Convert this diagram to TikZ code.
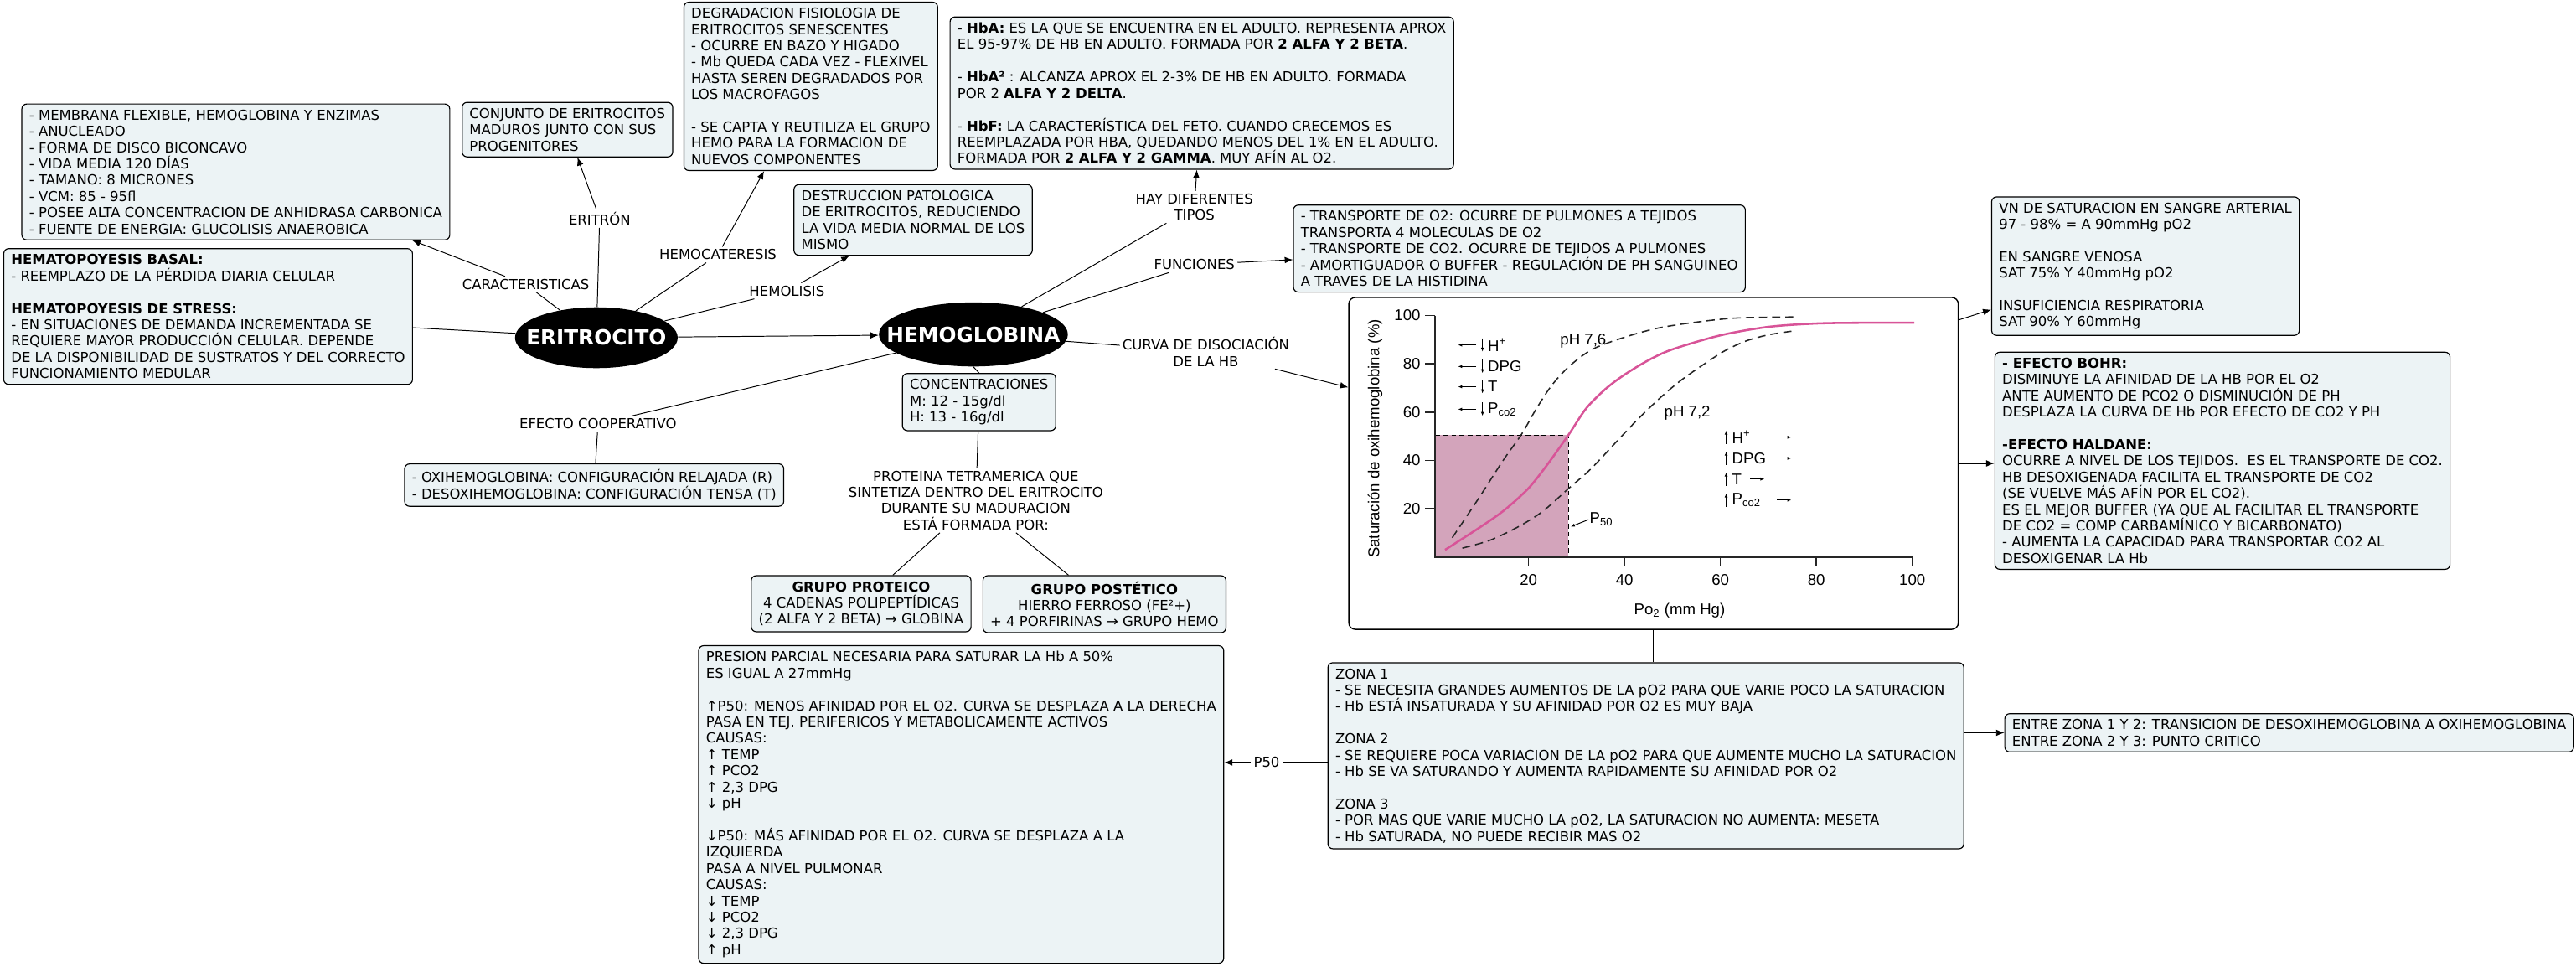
\documentclass[tikz,border=0pt]{standalone}
\usepackage{fontspec}
\setmainfont{DejaVu Sans}
\newfontfamily\graphfont{Liberation Sans}
\usetikzlibrary{shapes.geometric,arrows.meta}
\definecolor{boxfill}{RGB}{236,243,245}
\definecolor{curvepink}{RGB}{216,84,152}
\definecolor{zonefill}{RGB}{211,164,187}
\tikzset{
  box/.style={draw, line width=0.6pt, rounded corners=3pt, fill=boxfill, anchor=north west, inner xsep=4.5pt, inner ysep=3.5pt, align=left},
  lbl/.style={inner sep=1.5pt, align=center},
  hub/.style={ellipse, fill=black, text=white, inner sep=0pt, font=\fontsize{12.6}{14}\selectfont\bfseries},
  conn/.style={line width=0.5pt},
  link/.style={line width=0.5pt, -{Latex[length=5pt,width=4pt]}},
  gbox/.style={draw, line width=0.7pt, rounded corners=4pt, fill=white, inner sep=0pt, minimum width=371pt, minimum height=202pt},
  gaxis/.style={line width=0.8pt, black!85},
  gdash/.style={line width=0.8pt, black!85, dash pattern=on 5pt off 3pt},
  gsmall/.style={line width=0.5pt, -{Latex[length=2.5pt,width=2pt]}},
  gtext/.style={font=\graphfont\fontsize{9.5}{11}\selectfont, inner sep=0.5pt}
}
\begin{document}
\begin{tikzpicture}[x=1pt,y=-1pt,font=\fontsize{8.4}{9.9}\selectfont]
\useasboundingbox (0,0) rectangle (1568,588);
\node[box] (membrana) at (13,63) {- MEMBRANA FLEXIBLE, HEMOGLOBINA Y ENZIMAS\\- ANUCLEADO\\- FORMA DE DISCO BICONCAVO\\- VIDA MEDIA 120 DÍAS\\- TAMANO: 8 MICRONES\\- VCM: 85 - 95fl\\- POSEE ALTA CONCENTRACION DE ANHIDRASA CARBONICA\\- FUENTE DE ENERGIA: GLUCOLISIS ANAEROBICA};
\node[box] (hemato) at (2,151) {{\bfseries HEMATOPOYESIS BASAL:}\\- REEMPLAZO DE LA PÉRDIDA DIARIA CELULAR\\[9.9pt]{\bfseries HEMATOPOYESIS DE STRESS:}\\- EN SITUACIONES DE DEMANDA INCREMENTADA SE\\REQUIERE MAYOR PRODUCCIÓN CELULAR. DEPENDE\\DE LA DISPONIBILIDAD DE SUSTRATOS Y DEL CORRECTO\\FUNCIONAMIENTO MEDULAR};
\node[box] (conjunto) at (281,62) {CONJUNTO DE ERITROCITOS\\MADUROS JUNTO CON SUS\\PROGENITORES};
\node[box] (degradacion) at (416,1) {DEGRADACION FISIOLOGIA DE\\ERITROCITOS SENESCENTES\\- OCURRE EN BAZO Y HIGADO\\- Mb QUEDA CADA VEZ - FLEXIVEL\\HASTA SEREN DEGRADADOS POR\\LOS MACROFAGOS\\[9.9pt]- SE CAPTA Y REUTILIZA EL GRUPO\\HEMO PARA LA FORMACION DE\\NUEVOS COMPONENTES};
\node[box] (tipos) at (578,10) {- {\bfseries HbA:} ES LA QUE SE ENCUENTRA EN EL ADULTO. REPRESENTA APROX\\EL 95-97\% DE HB EN ADULTO. FORMADA POR {\bfseries 2 ALFA Y 2 BETA}.\\[9.9pt]- {\bfseries HbA²} : ALCANZA APROX EL 2-3\% DE HB EN ADULTO. FORMADA\\POR 2 {\bfseries ALFA Y 2 DELTA}.\\[9.9pt]- {\bfseries HbF:} LA CARACTERÍSTICA DEL FETO. CUANDO CRECEMOS ES\\REEMPLAZADA POR HBA, QUEDANDO MENOS DEL 1\% EN EL ADULTO.\\FORMADA POR {\bfseries 2 ALFA Y 2 GAMMA}. MUY AFÍN AL O2.};
\node[box] (destruccion) at (483,112) {DESTRUCCION PATOLOGICA\\DE ERITROCITOS, REDUCIENDO\\LA VIDA MEDIA NORMAL DE LOS\\MISMO};
\node[hub, minimum width=99pt, minimum height=37pt] (eri) at (363,205.5) {\makebox[0pt]{ERITROCITO}};
\node[hub, minimum width=115pt, minimum height=39pt] (hemo) at (592.5,203.5) {\makebox[0pt]{HEMOGLOBINA}};
\node[box] (conc) at (549,227) {CONCENTRACIONES\\M: 12 - 15g/dl\\H: 13 - 16g/dl};
\node[lbl] (proteina) at (594,304.5) {PROTEINA TETRAMERICA QUE\\SINTETIZA DENTRO DEL ERITROCITO\\DURANTE SU MADURACION\\ESTÁ FORMADA POR:};
\node[box, align=center] (proteico) at (457,350) {{\bfseries GRUPO PROTEICO}\\4 CADENAS POLIPEPTÍDICAS\\(2 ALFA Y 2 BETA) → GLOBINA};
\node[box, align=center] (postetico) at (598,350) {{\bfseries GRUPO POSTÉTICO}\\HIERRO FERROSO (FE²+)\\+ 4 PORFIRINAS → GRUPO HEMO};
\node[box] (config) at (246,282) {- OXIHEMOGLOBINA: CONFIGURACIÓN RELAJADA (R)\\- DESOXIHEMOGLOBINA: CONFIGURACIÓN TENSA (T)};
\node[box] (funciones) at (787,124.5) {- TRANSPORTE DE O2: OCURRE DE PULMONES A TEJIDOS\\TRANSPORTA 4 MOLECULAS DE O2\\- TRANSPORTE DE CO2. OCURRE DE TEJIDOS A PULMONES\\- AMORTIGUADOR O BUFFER - REGULACIÓN DE PH SANGUINEO\\A TRAVES DE LA HISTIDINA};
\node[box] (valores) at (1212,119.5) {VN DE SATURACION EN SANGRE ARTERIAL\\97 - 98\% = A 90mmHg pO2\\[9.9pt]EN SANGRE VENOSA\\SAT 75\% Y 40mmHg pO2\\[9.9pt]INSUFICIENCIA RESPIRATORIA\\SAT 90\% Y 60mmHg};
\node[box] (efectos) at (1214,214) {{\bfseries - EFECTO BOHR:}\\DISMINUYE LA AFINIDAD DE LA HB POR EL O2\\ANTE AUMENTO DE PCO2 O DISMINUCIÓN DE PH\\DESPLAZA LA CURVA DE Hb POR EFECTO DE CO2 Y PH\\[9.9pt]{\bfseries -EFECTO HALDANE:}\\OCURRE A NIVEL DE LOS TEJIDOS.\ \ ES EL TRANSPORTE DE CO2.\\HB DESOXIGENADA FACILITA EL TRANSPORTE DE CO2\\(SE VUELVE MÁS AFÍN POR EL CO2).\\ES EL MEJOR BUFFER (YA QUE AL FACILITAR EL TRANSPORTE\\DE CO2 = COMP CARBAMÍNICO Y BICARBONATO)\\- AUMENTA LA CAPACIDAD PARA TRANSPORTAR CO2 AL\\DESOXIGENAR LA Hb};
\node[box] (zonas) at (808,403) {ZONA 1\\- SE NECESITA GRANDES AUMENTOS DE LA pO2 PARA QUE VARIE POCO LA SATURACION\\- Hb ESTÁ INSATURADA Y SU AFINIDAD POR O2 ES MUY BAJA\\[9.9pt]ZONA 2\\- SE REQUIERE POCA VARIACION DE LA pO2 PARA QUE AUMENTE MUCHO LA SATURACION\\- Hb SE VA SATURANDO Y AUMENTA RAPIDAMENTE SU AFINIDAD POR O2\\[9.9pt]ZONA 3\\- POR MAS QUE VARIE MUCHO LA pO2, LA SATURACION NO AUMENTA: MESETA\\- Hb SATURADA, NO PUEDE RECIBIR MAS O2};
\node[box] (transicion) at (1220,434) {ENTRE ZONA 1 Y 2: TRANSICION DE DESOXIHEMOGLOBINA A OXIHEMOGLOBINA\\ENTRE ZONA 2 Y 3: PUNTO CRITICO};
\node[box] (presion) at (425,392.6) {PRESION PARCIAL NECESARIA PARA SATURAR LA Hb A 50\%\\ES IGUAL A 27mmHg\\[9.9pt]↑P50: MENOS AFINIDAD POR EL O2. CURVA SE DESPLAZA A LA DERECHA\\PASA EN TEJ. PERIFERICOS Y METABOLICAMENTE ACTIVOS\\CAUSAS:\\↑ TEMP\\↑ PCO2\\↑ 2,3 DPG\\↓ pH\\[9.9pt]↓P50: MÁS AFINIDAD POR EL O2. CURVA SE DESPLAZA A LA\\IZQUIERDA\\PASA A NIVEL PULMONAR\\CAUSAS:\\↓ TEMP\\↓ PCO2\\↓ 2,3 DPG\\↑ pH};
\node[lbl] (lblCar) at (320,173) {CARACTERISTICAS};
\node[lbl] (lblEritron) at (365,133) {ERITRÓN};
\node[lbl] (lblHemocat) at (437,155) {HEMOCATERESIS};
\node[lbl] (lblHemolisis) at (479,177) {HEMOLISIS};
\node[lbl] (lblCoop) at (364,258) {EFECTO COOPERATIVO};
\node[lbl] (lblTipos) at (727,126) {HAY DIFERENTES\\TIPOS};
\node[lbl] (lblFunc) at (727,161) {FUNCIONES};
\node[lbl] (lblCurva) at (734,214) {CURVA DE DISOCIACIÓN\\DE LA HB};
\node[lbl] (lblP50) at (771,464) {P50};
\node[gbox] (graph) at (1006.5,282) {};
\begin{scope}[shift={(872,339)},x=2.92pt,y=1.47pt]
\fill[zonefill] (0.5,0) rectangle (28.3,50.5);
\draw[line width=0.6pt, dash pattern=on 3pt off 2pt] (0.5,50.5) -- (28.3,50.5) -- (28.3,0);
\draw[gaxis] (0.5,100) -- (0.5,0) -- (100,0);
\foreach \v in {20,40,60,80,100} {
  \draw[gaxis] (0.5,\v) -- (-1.6,\v);
  \draw[gaxis] (\v,0) -- (\v,-3.5);
  \node[gtext, anchor=east] (yl\v) at (-2.3,\v) {\v};
  \node[gtext] (xl\v) at (\v,-9.5) {\v};
}
\node[gtext, rotate=90] (ylab) at (-12,49) {Saturación de oxihemoglobina (\%)};
\node[gtext] (xlab) at (51.5,-22) {Po\textsubscript{2} (mm Hg)};
\draw[gdash] plot[smooth] coordinates {(4.1,8) (9.5,24) (14.7,40) (18.6,51) (21.5,61) (24.8,71) (28.5,79) (33.3,86) (40,91) (48.3,95.3) (62,98.8) (75.2,99.4)};
\draw[gdash] plot[smooth] coordinates {(6.2,3.7) (12,7) (18,12.7) (23,19) (28.3,28.3) (33,36.5) (38.4,47.9) (43,57.5) (47.7,66.4) (52,73.5) (56.9,80.3) (61,85.5) (65.4,89.5) (70,92) (75.2,93.6)};
\draw[curvepink, line width=1.3pt] plot[smooth] coordinates {(2.6,3) (10,12.5) (15,19.5) (20,28.5) (24,38.5) (28.3,50.5) (32,61.5) (36,69.5) (40,75.5) (45,81.5) (50,86) (60,91.8) (70,95.3) (80,96.7) (90,97) (100.4,97)};
\node[gtext] (ph76) at (31.4,89.5) {pH 7,6};
\node[gtext] (ph72) at (53.1,59.6) {pH 7,2};
\foreach \s/\t [count=\i] in {87.8/H\textsuperscript{+}, 78.9/DPG, 70.5/T, 61.2/P\textsubscript{co2}} {
  \draw[gsmall] (9.1,\s) -- (5.3,\s);
  \draw[gsmall] (10.4,\s+2.8) -- (10.4,\s-2.8);
  \node[gtext, anchor=west] (lf\i) at (11.3,\s) {\t};
}
\foreach \s/\t/\a [count=\i] in {49.6/H\textsuperscript{+}/71.8, 40.9/DPG/71.8, 32.3/T/66.2, 23.6/P\textsubscript{co2}/71.8} {
  \draw[gsmall] (61.2,\s-2.8) -- (61.2,\s+2.8);
  \node[gtext, anchor=west] (rf\i) at (62.2,\s) {\t};
  \draw[gsmall] (\a,\s) -- (\a+3,\s);
}
\node[gtext, anchor=west] (p50mark) at (32.5,15.5) {P\textsubscript{50}};
\draw[gsmall] (p50mark.west) -- (28.8,12.6);
\end{scope}
\draw[conn] (eri) -- (hemato);
\draw[conn] (eri) -- (lblCar);
\draw[link] (lblCar) -- (membrana);
\draw[conn] (eri) -- (lblEritron);
\draw[link] (lblEritron) -- (conjunto);
\draw[conn] (eri) -- (lblHemocat);
\draw[link] (lblHemocat) -- (degradacion);
\draw[conn] (eri) -- (lblHemolisis);
\draw[link] (lblHemolisis) -- (destruccion);
\draw[link] (eri) -- (hemo);
\draw[conn] (hemo) -- (lblCoop);
\draw[conn] (lblCoop) -- (config);
\draw[conn] (hemo.south) -- (conc.north);
\draw[conn] (conc) -- (proteina);
\draw[conn] (proteina) -- (proteico);
\draw[conn] (proteina) -- (postetico);
\draw[conn] (hemo) -- (lblTipos);
\draw[link] (lblTipos) -- (tipos);
\draw[conn] (hemo) -- (lblFunc);
\draw[link] (lblFunc) -- (funciones);
\draw[conn] (hemo) -- (lblCurva);
\draw[link] (lblCurva) -- (graph);
\draw[link] ([yshift=-14pt]graph.north east) -- ([yshift=16pt]valores.south west);
\draw[link] (graph.east) -- (graph.east -| efectos.west);
\draw[conn] (graph.south) -- (graph.south |- zonas.north);
\draw[link] (transicion.west -| zonas.east) -- (transicion.west);
\draw[conn] (zonas.west |- lblP50.east) -- (lblP50.east);
\draw[link] (lblP50.west) -- (presion.east |- lblP50.west);
\end{tikzpicture}
\end{document}
